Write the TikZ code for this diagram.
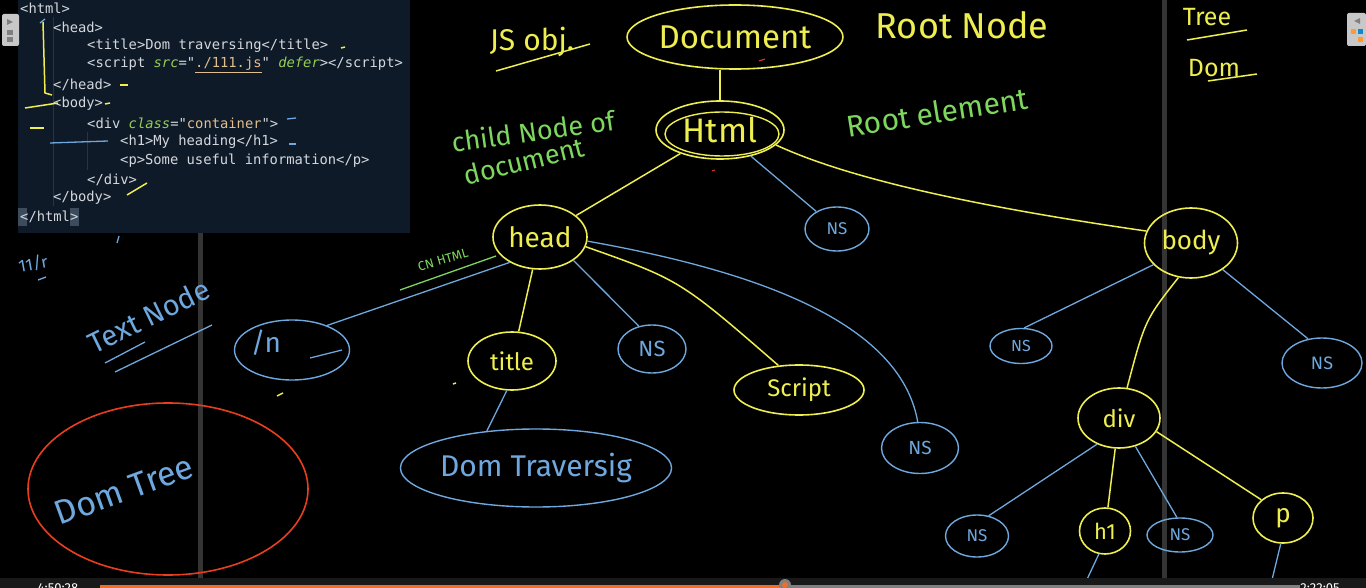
\documentclass[tikz,border=0pt]{standalone}
\usepackage{fontspec}
\setmainfont{Fira Sans}
\setmonofont{DejaVu Sans Mono}
\usetikzlibrary{shapes.geometric}

\definecolor{penyellow}{RGB}{238,238,80}
\definecolor{penblue}{RGB}{110,168,222}
\definecolor{pengreen}{RGB}{125,215,95}
\definecolor{penred}{RGB}{232,62,30}
\definecolor{panel}{RGB}{14,26,40}
\definecolor{codegrey}{RGB}{212,216,222}
\definecolor{attrgreen}{RGB}{150,205,85}
\definecolor{strorange}{RGB}{226,190,140}
\definecolor{guide}{RGB}{38,52,68}
\definecolor{bracketbox}{RGB}{60,76,92}
\definecolor{divgrey}{RGB}{52,52,52}
\definecolor{widget}{RGB}{200,200,200}
\definecolor{barorange}{RGB}{238,110,40}

\newcommand{\hw}[1]{\fontsize{#1}{#1}\selectfont}
\newcommand{\codefont}{\ttfamily\fontsize{13.8}{14}\selectfont}
\newcommand{\codeattr}[1]{\textcolor{attrgreen}{\itshape #1}}
\newcommand{\codestr}[1]{\textcolor{strorange}{#1}}

\begin{document}
\begin{tikzpicture}[x=1pt, y=-1pt,
  ynode/.style={ellipse, draw=penyellow, line width=1.6pt, text=penyellow, inner sep=0pt},
  bnode/.style={ellipse, draw=penblue, line width=1.4pt, text=penblue, inner sep=0pt},
  yline/.style={penyellow, line width=1.5pt},
  bline/.style={penblue, line width=1.3pt},
  gline/.style={pengreen, line width=1.3pt},
  codeln/.style={anchor=west, inner sep=0pt, text=codegrey, font=\codefont}]
  % board
  \fill[black] (0,0) rectangle (1366,588);
  \useasboundingbox (0,0) rectangle (1366,588);
  \fill[divgrey] (198,232) rectangle (203,578);
  \fill[divgrey] (1162,0) rectangle (1167,578);

  % code panel
  \fill[panel] (18,0) rectangle (410,233);
  \draw[guide, line width=1pt] (53,17) -- (53,206);
  \draw[guide, line width=1pt] (87,132) -- (87,170);
  \fill[bracketbox] (18,208) rectangle (27,226);
  \fill[bracketbox] (70,208) rectangle (79,226);
  \node[codeln] (c1) at (20,8) {<html>};
  \node[codeln] (c2) at (53,27) {<head>};
  \node[codeln] (c3) at (87,46) {<title>Dom traversing</title>};
  \node[codeln] (c4) at (87,65) {<script \codeattr{src}="\codestr{\underline{./111.js}}" \codeattr{defer}></script>};
  \node[codeln] (c5) at (53,85) {</head>};
  \node[codeln] (c6) at (53,104) {<body>};
  \node[codeln] (c7) at (87,123) {<div \codeattr{class}="\codestr{container}">};
  \node[codeln] (c8) at (120,142) {<h1>My heading</h1>};
  \node[codeln] (c9) at (120,161) {<p>Some useful information</p>};
  \node[codeln] (c10) at (87,180) {</div>};
  \node[codeln] (c11) at (53,198) {</body>};
  \node[codeln] (c12) at (20,217) {</html>};

  % marks on the code
  \draw[yline] (43,22) -- (45,93) -- (52,95);
  \draw[bline] (40,23) -- (45,19);
  \draw[yline] (25,108) -- (58,103);
  \draw[yline] (341,48) -- (345,47);
  \draw[yline] (120,85) -- (128,85);
  \draw[yline] (105,104) -- (110,103);
  \draw[yline] (30,128) -- (44,128);
  \draw[bline] (287,119) -- (296,118);
  \draw[bline] (50,143) -- (108,141);
  \draw[bline] (289,144) -- (296,144);
  \draw[yline] (127,195) -- (147,183);

  % player widgets
  \fill[widget, rounded corners=2pt] (2,14) rectangle (19,46);
  \fill[gray] (7,19) -- (13,22) -- (7,25) -- cycle;
  \fill[gray] (7,30) rectangle (13,35);
  \fill[gray] (7,37) rectangle (13,42);
  \fill[widget, rounded corners=2pt] (1347,13) rectangle (1366,46);
  \fill[gray] (1360,18) -- (1354,21) -- (1360,24) -- cycle;
  \fill[orange!80] (1351,29) rectangle (1356,34);
  \fill[cyan!70!blue] (1358,29) rectangle (1363,34);
  \fill[orange!80] (1358,37) rectangle (1363,42);

  % tree nodes
  \node[ynode, minimum width=200pt, minimum height=64pt, font=\hw{33}] (doc) at (735,37) {Document};
  \node[ynode, minimum width=128pt, minimum height=58pt, font=\hw{34}] (html) at (720,130) {Html};
  \draw[penyellow, line width=1.4pt] (722,134) ellipse [x radius=57, y radius=22];
  \node[ynode, minimum width=94pt, minimum height=64pt, font=\hw{28}] (head) at (540,237) {head};
  \node[bnode, minimum width=64pt, minimum height=44pt, font=\hw{17}] (nshtml) at (837,229) {NS};
  \node[ynode, minimum width=93pt, minimum height=70pt, font=\hw{26}] (body) at (1191,243) {body};
  \node[bnode, minimum width=115pt, minimum height=60pt] (textn) at (292,350) {};
  \node[text=penblue, font=\hw{28}, inner sep=0pt] (slashn) at (266,343) {/n};
  \node[ynode, minimum width=88pt, minimum height=58pt, font=\hw{24}] (title) at (512,361) {title};
  \node[bnode, minimum width=68pt, minimum height=48pt, font=\hw{22}] (nshead) at (652,349) {NS};
  \node[ynode, minimum width=130pt, minimum height=50pt, font=\hw{24}] (script) at (799,390) {Script};
  \node[bnode, minimum width=77pt, minimum height=51pt, font=\hw{19}] (nsfar) at (920,448) {NS};
  \node[bnode, minimum width=260pt, minimum height=78pt, font=\hw{30}] (domtrav) at (536,468) {Dom Traversig};
  \node[bnode, minimum width=62pt, minimum height=35pt, font=\hw{16}] (nsbl) at (1021,346) {NS};
  \node[bnode, minimum width=80pt, minimum height=50pt, font=\hw{18}] (nsbr) at (1322,363) {NS};
  \node[ynode, minimum width=82pt, minimum height=60pt, font=\hw{24}] (div) at (1119,418) {div};
  \node[bnode, minimum width=63pt, minimum height=42pt, font=\hw{17}] (nsdl) at (977,536) {NS};
  \node[ynode, minimum width=51pt, minimum height=46pt, font=\hw{22}] (hone) at (1105,531) {h1};
  \node[bnode, minimum width=66pt, minimum height=34pt, font=\hw{17}] (nsdm) at (1180,535) {NS};
  \node[ynode, minimum width=60pt, minimum height=50pt, font=\hw{26}] (para) at (1283,518) {p};
  \coordinate (hkid) at (1083,588);
  \coordinate (pkid) at (1270,588);

  % connectors
  \draw[yline] (html.north) -- (html.north |- doc.south);
  \draw[yline] (html) -- (head);
  \draw[bline] (html) -- (nshtml);
  \draw[yline] (html.-15) .. controls (830,170) and (930,200) .. (body.165);
  \draw[bline] (head.-140) -- (textn.35);
  \draw[yline] (head) -- (title);
  \draw[bline] (head.-35) -- (nshead.120);
  \draw[yline] (head.-12) .. controls (680,280) .. (script.130);
  \draw[bline] (head.-5) .. controls (750,270) and (900,320) .. (nsfar.95);
  \draw[bline] (title.-100) -- (domtrav.143);
  \draw[bline] (body.-150) -- (nsbl.80);
  \draw[yline] (body.-110) .. controls (1145,320) .. (div.75);
  \draw[bline] (body.-40) -- (nsbr.120);
  \draw[bline] (div.-130) -- (nsdl.60);
  \draw[yline] (div) -- (hone);
  \draw[bline] (div.-60) -- (nsdm.100);
  \draw[yline] (div.-20) -- (para.140);
  \draw[bline] (hone.-105) -- (hkid);
  \draw[bline] (para.-95) -- (pkid);

  % notes
  \node[text=penyellow, font=\hw{30}] (jsobj) at (532,42) {JS obj.};
  \draw[yline] (496,71) -- (590,44);
  \node[text=penyellow, font=\hw{36}] (rootnode) at (962,25) {Root Node};
  \node[text=penyellow, font=\hw{25}] (treelbl) at (1207,17) {Tree};
  \draw[yline] (1187,40) -- (1247,30);
  \node[text=penyellow, font=\hw{25}] (domlbl) at (1214,68) {Dom};
  \draw[yline] (1208,81) -- (1257,74);
  \node[text=pengreen, font=\hw{27}, rotate=8] (childa) at (533,131) {child Node of};
  \node[text=pengreen, font=\hw{27}, rotate=14] (childb) at (524,161) {document};
  \node[text=pengreen, font=\hw{30}, rotate=9] (rootelem) at (937,112) {Root element};
  \node[text=pengreen, font=\hw{13}, rotate=16] (cnhtml) at (443,260) {CN HTML};
  \draw[gline] (400,290) -- (496,256);
  \node[text=penblue, font=\hw{29}, rotate=26] (textnode) at (149,316) {Text Node};
  \draw[bline] (105,363) -- (145,342);
  \draw[bline] (115,372) -- (212,325);
  \draw[bline] (310,358) -- (342,350);
  \node[text=penblue, font=\hw{17}, rotate=10] (scrib) at (33,264) {11/r};
  \draw[bline] (38,280) -- (46,277);
  \draw[bline] (117,243) -- (119,236);
  \draw[yline] (277,396) -- (283,393);
  \draw[yline] (453,384) -- (456,383);
  \draw[penred, line width=1pt] (759,61) -- (765,59);
  \draw[penred, line width=1pt] (712,171) -- (715,170);

  % Dom Tree circle
  \draw[penred, line width=1.6pt] (168,489) ellipse [x radius=140, y radius=86];
  \node[text=penblue, font=\hw{34}, rotate=20] (domtree) at (124,490) {Dom Tree};

  % player bar
  \fill[black!90] (0,578) rectangle (1366,588);
  \draw[barorange, line width=3pt] (100,586) -- (785,586);
  \draw[gray, line width=3pt] (785,586) -- (1300,586);
  \fill[gray] (785,585) circle (6);
  \fill[barorange] (785,585) circle (3);
  \node[anchor=north, text=white, font=\hw{13}] (tstart) at (58,580) {4:50:28};
  \node[anchor=north, text=white, font=\hw{13}] (tend) at (1320,580) {2:22:05};
\end{tikzpicture}
\end{document}
